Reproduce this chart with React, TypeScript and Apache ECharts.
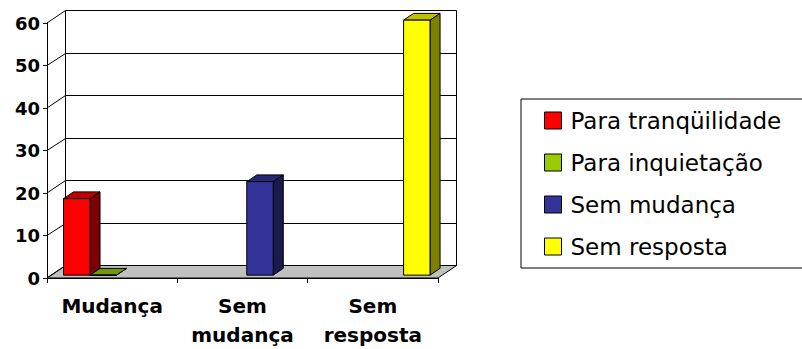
import React, { useEffect, useRef } from "react";
import * as echarts from "echarts";

// Categories and series values
const categories = ["Mudança", "Sem\nmudança", "Sem\nresposta"];
const seriesNames = ["Para tranqüilidade", "Para inquietação", "Sem mudança", "Sem resposta"];
const paraTranquilidade: (number | null)[] = [18, null, null];
const paraInquietacao: (number | null)[] = [0, null, null];
const semMudanca: (number | null)[] = [null, 22, null];
const semResposta: (number | null)[] = [null, null, 60];
const yTicks = [0, 10, 20, 30, 40, 50, 60];

// Face colours: front, top, side
const palette = [
  { front: "#ff0000", top: "#c00000", side: "#800000" },
  { front: "#99cc00", top: "#739900", side: "#4d6600" },
  { front: "#333399", top: "#262673", side: "#1a1a4d" },
  { front: "#ffff00", top: "#c0c000", side: "#808000" },
];

// 3D projection of the chart depth
const DX = 18.6;
const DY = -12.5;
const DEPTH_FRONT = 0.23;
const DEPTH_BACK = 0.77;
const SLOT = 0.203;

const px = (v: number) => Math.round(v - 0.5) + 0.5;

function barSeries(name: string, values: (number | null)[], slot: number) {
  const c = palette[slot];
  const data = values
    .map((v, i) => (v === null ? null : [i, v]))
    .filter((d) => d !== null);
  return {
    name,
    type: "custom",
    coordinateSystem: "cartesian2d",
    z: 10 + slot,
    itemStyle: { color: c.front },
    data,
    renderItem: (_params: any, api: any) => {
      const cat = api.value(0);
      const val = api.value(1);
      const base = api.coord([cat, 0]);
      const tip = api.coord([cat, val]);
      const band = api.size([1, 0])[0];
      const bw = band * SLOT;
      const x = base[0] - 2 * bw + slot * bw + DX * DEPTH_FRONT;
      const yb = base[1] + DY * DEPTH_FRONT;
      const yt = tip[1] + DY * DEPTH_FRONT;
      const ddx = DX * (DEPTH_BACK - DEPTH_FRONT);
      const ddy = DY * (DEPTH_BACK - DEPTH_FRONT);
      const stroke = { stroke: "#000", lineWidth: 1, lineJoin: "miter" };
      return {
        type: "group",
        children: [
          {
            type: "polygon",
            shape: { points: [[x + bw, yt], [x + bw, yb], [x + bw + ddx, yb + ddy], [x + bw + ddx, yt + ddy]] },
            style: { fill: c.side, ...stroke },
          },
          {
            type: "polygon",
            shape: { points: [[x, yt], [x + bw, yt], [x + bw + ddx, yt + ddy], [x + ddx, yt + ddy]] },
            style: { fill: c.top, ...stroke },
          },
          {
            type: "rect",
            shape: { x, y: yt, width: bw, height: yb - yt },
            style: { fill: c.front, ...stroke },
          },
        ],
      };
    },
  };
}

export default function App() {
  const ref = useRef<HTMLDivElement>(null);

  useEffect(() => {
    if (!ref.current) return;
    const chart = echarts.init(ref.current, null, { renderer: "svg" });

    const floorSeries = {
      name: "floor",
      type: "custom",
      coordinateSystem: "cartesian2d",
      z: 2,
      silent: true,
      data: [[0, 0]],
      renderItem: (params: any, api: any) => {
        const cs = params.coordSys;
        const x0 = cs.x;
        const x1 = cs.x + cs.width;
        const y0 = api.coord([0, 0])[1];
        const yTop = api.coord([0, 60])[1];
        return {
          type: "group",
          children: [
            {
              type: "polygon",
              shape: { points: [[x0, y0], [x1, y0], [x1 + DX, y0 + DY], [x0 + DX, y0 + DY]] },
              style: { fill: "#c0c0c0", stroke: "#000", lineWidth: 1 },
            },
            {
              type: "line",
              shape: { x1: px(x0 + DX), y1: yTop + DY, x2: px(x0 + DX), y2: y0 + DY },
              style: { stroke: "#000", lineWidth: 1 },
            },
            {
              type: "line",
              shape: { x1: px(x1 + DX), y1: yTop + DY, x2: px(x1 + DX), y2: y0 + DY },
              style: { stroke: "#000", lineWidth: 1 },
            },
          ],
        };
      },
    };

    const gridSeries = {
      name: "walls",
      type: "custom",
      coordinateSystem: "cartesian2d",
      z: 3,
      silent: true,
      data: yTicks.map((v) => [0, v]),
      renderItem: (params: any, api: any) => {
        const cs = params.coordSys;
        const x0 = cs.x;
        const x1 = cs.x + cs.width;
        const y = api.coord([0, api.value(1)])[1];
        const yb = px(y + DY);
        return {
          type: "polyline",
          shape: { points: [[x0, y], [px(x0 + DX), yb], [px(x1 + DX), yb]] },
          style: { stroke: "#000", lineWidth: 1, fill: null },
        };
      },
    };

    const bars = [
      barSeries(seriesNames[0], paraTranquilidade, 0),
      barSeries(seriesNames[1], paraInquietacao, 1),
      barSeries(seriesNames[2], semMudanca, 2),
      barSeries(seriesNames[3], semResposta, 3),
    ];

    chart.setOption({
      animation: false,
      backgroundColor: "#fff",
      grid: { left: 47, right: 364, top: 23, bottom: 71 },
      legend: {
        data: seriesNames,
        orient: "vertical",
        left: 521,
        top: 99,
        icon: "rect",
        itemWidth: 17,
        itemHeight: 17,
        itemGap: 19,
        padding: [10, 60, 10, 23],
        borderColor: "#000",
        borderWidth: 1,
        backgroundColor: "#fff",
        itemStyle: { borderColor: "#000", borderWidth: 1 },
        textStyle: {
          fontFamily: "DejaVu Sans",
          fontSize: 23,
          color: "#000",
          padding: [0, 0, 0, 4],
        },
        selectedMode: false,
      },
      xAxis: {
        type: "category",
        data: categories,
        axisLine: { show: true, lineStyle: { color: "#000", width: 1 } },
        axisTick: { show: true, length: 5, interval: 0, lineStyle: { color: "#000" } },
        axisLabel: {
          interval: 0,
          margin: 13,
          fontFamily: "DejaVu Sans",
          fontWeight: "bold",
          fontSize: 20,
          lineHeight: 29,
          color: "#000",
        },
        splitLine: { show: false },
      },
      yAxis: {
        type: "value",
        min: 0,
        max: 60,
        interval: 10,
        axisLine: { show: true, lineStyle: { color: "#000", width: 1 } },
        axisTick: { show: true, length: 4, lineStyle: { color: "#000" } },
        axisLabel: {
          margin: 7,
          fontFamily: "DejaVu Sans",
          fontWeight: "bold",
          fontSize: 18,
          color: "#000",
        },
        splitLine: { show: false },
      },
      series: [floorSeries, gridSeries, ...bars],
    });

    return () => chart.dispose();
  }, []);

  return (
    <div
      ref={ref}
      style={{ position: "fixed", left: 0, top: 0, width: 802, height: 349 }}
    />
  );
}
